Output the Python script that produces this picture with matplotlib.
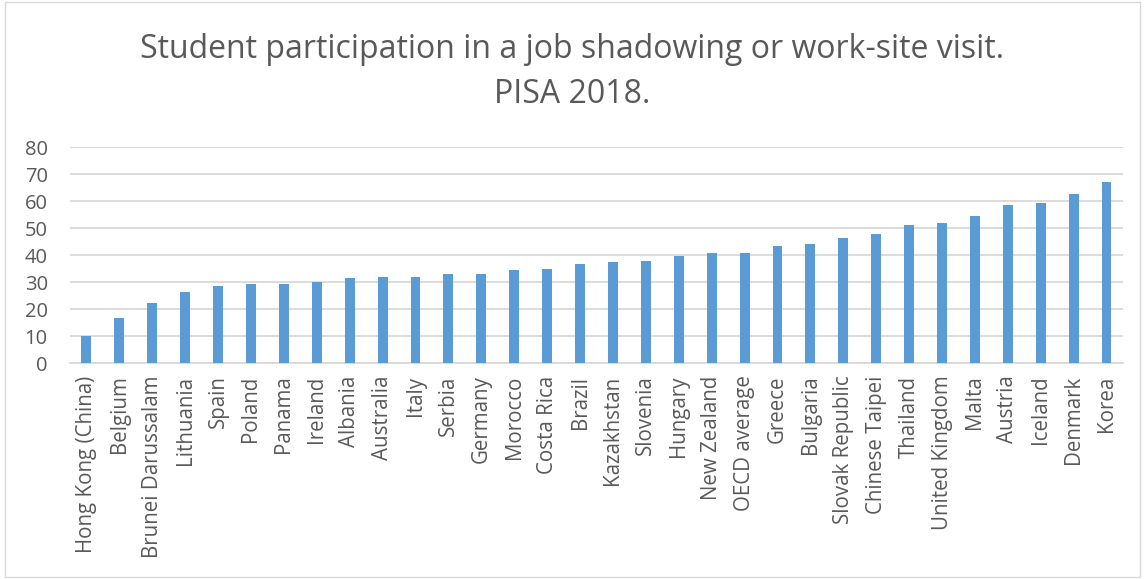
import matplotlib.pyplot as plt
from matplotlib.patches import Rectangle

countries = ['Hong Kong (China)', 'Belgium', 'Brunei Darussalam', 'Lithuania', 'Spain',
             'Poland', 'Panama', 'Ireland', 'Albania', 'Australia', 'Italy', 'Serbia',
             'Germany', 'Morocco', 'Costa Rica', 'Brazil', 'Kazakhstan', 'Slovenia',
             'Hungary', 'New Zealand', 'OECD average', 'Greece', 'Bulgaria',
             'Slovak Republic', 'Chinese Taipei', 'Thailand', 'United Kingdom', 'Malta',
             'Austria', 'Iceland', 'Denmark', 'Korea']
values = [10.0, 16.5, 22.4, 26.4, 28.5, 29.4, 29.4, 29.9, 31.4, 31.9, 31.9, 32.9,
          32.9, 34.3, 34.8, 36.8, 37.3, 37.8, 39.8, 40.8, 40.8, 43.3, 44.2,
          46.2, 47.7, 51.2, 51.7, 54.6, 58.6, 59.1, 62.6, 67.1]
yticks = [0, 10, 20, 30, 40, 50, 60, 70, 80]

plt.rcParams['font.family'] = ['Open Sans', 'DejaVu Sans']
text_color = '#595959'

fig = plt.figure(figsize=(11.45, 5.79), dpi=100)
ax = fig.add_axes([0.0611, 0.373, 0.9197, 0.373])

x = range(len(countries))
ax.bar(x, values, width=0.3, color='#5b9bd5', zorder=3)

ax.set_ylim(0, 80)
ax.set_xlim(-0.5, len(countries) - 0.5)
ax.set_yticks(yticks)
ax.set_xticks(list(x))
ax.set_xticklabels(countries, rotation=90, fontsize=14.8, color=text_color)
ax.tick_params(axis='y', labelsize=14.5, labelcolor=text_color, length=0, pad=16)
ax.tick_params(axis='x', length=0, pad=9)
ax.yaxis.grid(True, color='#d9d9d9', linewidth=1.3, zorder=0)
for s in ['top', 'right', 'left']:
    ax.spines[s].set_visible(False)
ax.spines['bottom'].set_color('#d9d9d9')
ax.spines['bottom'].set_linewidth(1.3)

fig.text(0.5, 0.876, 'Student participation in a job shadowing or work-site visit.\nPISA 2018.',
         ha='center', va='center', fontsize=23, color=text_color, linespacing=1.5)

fig.patches.append(Rectangle((0.004, 0.004), 0.992, 0.992, transform=fig.transFigure,
                             fill=False, edgecolor='#d9d9d9', linewidth=1))

fig.savefig('out.png', dpi=100)
